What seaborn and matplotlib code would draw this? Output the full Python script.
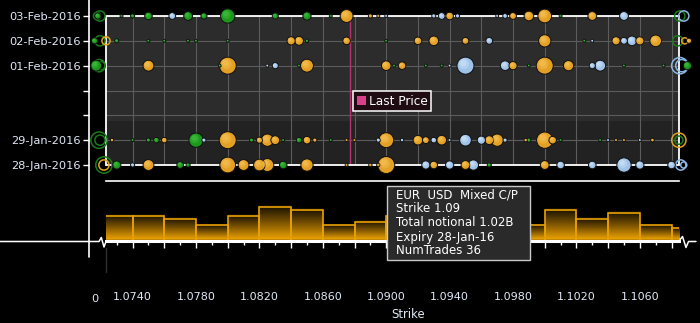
import numpy as np
import pandas as pd
import matplotlib
matplotlib.use("Agg")
import matplotlib.pyplot as plt
import seaborn as sns
from matplotlib.patches import Rectangle, Patch
from matplotlib.lines import Line2D
from matplotlib.path import Path
from matplotlib.colors import LinearSegmentedColormap
from matplotlib.ticker import FixedLocator, FuncFormatter

# ------------------------------------------------------------------ data
day_labels = ["28-Jan-2016", "29-Jan-2016", "", "", "01-Feb-2016", "02-Feb-2016", "03-Feb-2016"]

# 28-Jan-2016 (day 0)
strike_d0 = [1.0730, 1.0740, 1.0750, 1.0770, 1.0775, 1.0800, 1.0810, 1.0820, 1.0825, 1.0835,
             1.0850, 1.0875, 1.0890, 1.0895, 1.0900, 1.0925, 1.0930, 1.0940, 1.0950, 1.0955,
             1.0965, 1.1000, 1.1010, 1.1030, 1.1050, 1.1060, 1.1080]
notional_d0 = [237, 59, 416, 161, 59, 878, 416, 481, 588, 202,
               533, 30, 40, 40, 1020, 237, 202, 237, 274, 370,
               59, 274, 202, 202, 725, 237, 202]
type_d0 = list("CPMCCMMMMCMMMMMPMPMPCMPPPPP")

# 29-Jan-2016 (day 1)
strike_d1 = [1.0727, 1.0740, 1.0750, 1.0755, 1.0760, 1.0780, 1.0785, 1.0800, 1.0815, 1.0820,
             1.0825, 1.0830, 1.0835, 1.0845, 1.0850, 1.0855, 1.0865, 1.0875, 1.0880, 1.0895,
             1.0900, 1.0910, 1.0920, 1.0925, 1.0930, 1.0935, 1.0940, 1.0950, 1.0960, 1.0965,
             1.0970, 1.0975, 1.0988, 1.0990, 1.1000, 1.1005, 1.1010, 1.1035, 1.1040, 1.1045,
             1.1050, 1.1060, 1.1068]
notional_d1 = [40, 30, 59, 108, 108, 725, 59, 1200, 59, 133,
               533, 274, 30, 108, 202, 59, 30, 30, 30, 59,
               789, 40, 327, 161, 108, 327, 30, 481, 237, 274,
               533, 59, 40, 59, 947, 202, 30, 30, 30, 30,
               30, 30, 45]
type_d1 = list("MCCCMCPMCMMMCCMMCMMPMPMMPMPPPMMPMCMMCCPMMPM")

# 01-Feb-2016 (day 4)
strike_d4 = [1.0717, 1.0750, 1.0795, 1.0800, 1.0825, 1.0830, 1.0845, 1.0850, 1.0900, 1.0905,
             1.0910, 1.0925, 1.0935, 1.0940, 1.0950, 1.0975, 1.0980, 1.0990, 1.1000, 1.1015,
             1.1030, 1.1035, 1.1050, 1.1075, 1.1090]
notional_d4 = [416, 416, 30, 1200, 30, 133, 30, 588, 327, 30,
               202, 30, 30, 30, 1200, 327, 237, 30, 1280, 370,
               133, 416, 30, 30, 237]
type_d4 = list("CMCMPPCMMCMCCPPPMCMMPPCCC")

# 02-Feb-2016 (day 5)
strike_d5 = [1.0716, 1.0730, 1.0750, 1.0760, 1.0775, 1.0780, 1.0800, 1.0840, 1.0845, 1.0850,
             1.0875, 1.0900, 1.0920, 1.0930, 1.0950, 1.0965, 1.1000, 1.1025, 1.1030, 1.1045,
             1.1050, 1.1055, 1.1060, 1.1070, 1.1091]
notional_d5 = [133, 59, 30, 30, 30, 30, 30, 237, 274, 40,
               202, 30, 202, 327, 161, 161, 533, 30, 30, 237,
               161, 327, 237, 481, 93]
type_d5 = list("CCCCCCCMMCMCMMMPMCPMPPMMM")

# 03-Feb-2016 (day 6)
strike_d6 = [1.0718, 1.0733, 1.0740, 1.0750, 1.0765, 1.0775, 1.0785, 1.0800, 1.0830, 1.0850,
             1.0865, 1.0875, 1.0890, 1.0895, 1.0900, 1.0930, 1.0935, 1.0940, 1.0945, 1.0970,
             1.0975, 1.0980, 1.0990, 1.1000, 1.1010, 1.1030, 1.1050]
notional_d6 = [133, 30, 59, 202, 161, 274, 133, 725, 133, 237,
               30, 588, 59, 30, 30, 59, 161, 202, 59, 30,
               78, 161, 327, 664, 30, 274, 274]
type_d6 = list("CCCCPCCCCCCMMMPPPMPPPMMMCMP")

# strikes outside the visible range, shown as rings at the edges
edge_strike = [1.07194, 1.07175, 1.07194, 1.07232, 1.07188, 1.07200, 1.07188, 1.07194, 1.07219, 1.07219,
               1.10852, 1.10877, 1.10839, 1.10883, 1.10852, 1.10865, 1.10846, 1.10846, 1.10858, 1.10877]
edge_day = [6, 6, 5, 5, 4, 4, 1, 1, 0, 0,
            6, 6, 5, 5, 4, 4, 1, 1, 0, 0]
edge_notional = [370, 180, 370, 237, 533, 237, 947, 370, 947, 370,
                 370, 370, 370, 133, 947, 533, 725, 237, 370, 133]
edge_type = list("CCCMCCCCCM" "CPCMPPMCPP")

last_price = 1.0877

hist_edges = [1.072, 1.074, 1.076, 1.078, 1.080, 1.082, 1.084, 1.086, 1.088, 1.090,
              1.092, 1.094, 1.096, 1.098, 1.100, 1.102, 1.104, 1.106, 1.108, 1.110]
hist_counts = [8, 8, 7, 5, 8, 11, 10, 5, 6, 8, 7, 9, 6, 5, 10, 7, 9, 5, 4]

tooltip_lines = ["EUR  USD  Mixed C/P", "Strike 1.09", "Total notional 1.02B",
                 "Expiry 28-Jan-16", "NumTrades 36"]

# ------------------------------------------------------------------ frames
type_names = {"C": "Call", "P": "Put", "M": "Mixed"}
rows = []
for d, s, n, t in [(0, strike_d0, notional_d0, type_d0), (1, strike_d1, notional_d1, type_d1),
                   (4, strike_d4, notional_d4, type_d4), (5, strike_d5, notional_d5, type_d5),
                   (6, strike_d6, notional_d6, type_d6)]:
    rows.append(pd.DataFrame({"strike": s, "day": d, "notional": n,
                              "type": [type_names[c] for c in t]}))
df = pd.concat(rows, ignore_index=True).sort_values("notional", ascending=False)
edf = pd.DataFrame({"strike": edge_strike, "day": edge_day, "notional": edge_notional,
                    "type": [type_names[c] for c in edge_type]})
hdf = pd.DataFrame({"strike": [(a + b) / 2 for a, b in zip(hist_edges[:-1], hist_edges[1:])],
                    "count": hist_counts})

palette = {"Call": "#1c961c", "Put": "#9ec2e8", "Mixed": "#e3a024"}
light_palette = {"Call": "#4fd04f", "Put": "#e2efff", "Mixed": "#ffd06a"}
ring_palette = {"Call": "#1a7a1a", "Put": "#8cb6e2", "Mixed": "#e0a020"}

# ------------------------------------------------------------------ figure
sns.set_style("dark")
plt.rcParams["font.family"] = ["DejaVu Sans"]
fig = plt.figure(figsize=(7.0, 3.23), dpi=100, facecolor="black")

W, H = 700.0, 323.0
ax = fig.add_axes([106 / W, 1 - 165 / H, 573 / W, 149 / H])
axh = fig.add_axes([106 / W, 1 - 241 / H, 573 / W, 60 / H])

XMIN, XMAX = 1.07232, 1.10847
NMAX = 1020.0
SMAX = (2 * 8.5 * 0.72) ** 2
text_col = "#dfe8f6"


def highlight_marker(cx, cy, r):
    circ = Path.circle(center=(cx, cy), radius=r)
    verts = np.vstack([circ.vertices, [[1.0, 1.0], [-1.0, -1.0]]])
    codes = np.concatenate([circ.codes, [Path.MOVETO, Path.MOVETO]])
    return Path(verts, codes)


# ---- top bubble panel
ax.set_facecolor("#2c2c2c")
ax.axhspan(0, 1.77, color="#222222", zorder=0.5, lw=0)
ax.axvline(last_price, color="#b3336e", lw=1.0, zorder=1.5)

sns.scatterplot(data=edf, x="strike", y="day", hue="type", size="notional",
                sizes=(0, SMAX), size_norm=(0, NMAX), palette=ring_palette,
                edgecolor="none", legend=False, ax=ax, zorder=3.5, clip_on=False)
ring = ax.collections[-1]
ring.set_edgecolors(ring.get_facecolors())
ring.set_facecolors("none")
ring.set_linewidths(1.1)

sns.scatterplot(data=df, x="strike", y="day", hue="type", size="notional",
                sizes=(0, SMAX), size_norm=(0, NMAX), palette=palette,
                edgecolor="#101010", linewidth=0.7, legend=False, ax=ax,
                zorder=4, clip_on=False)
# soft highlight for a glossy look
for (cx, cy, r, a) in [(-0.18, 0.2, 0.62, 0.30), (-0.25, 0.3, 0.38, 0.35)]:
    sns.scatterplot(data=df, x="strike", y="day", hue="type", size="notional",
                    sizes=(0, SMAX), size_norm=(0, NMAX), palette=light_palette,
                    marker=highlight_marker(cx, cy, r), edgecolor="none", linewidth=0,
                    alpha=a, legend=False, ax=ax, zorder=4.1, clip_on=False)

ax.set_xlim(XMIN, XMAX)
ax.set_ylim(0, 6)
ax.xaxis.set_major_locator(FixedLocator(np.round(np.arange(1.072, 1.110, 0.002), 3)))
ax.set_yticks(range(7))
ax.set_yticklabels(day_labels)
ax.grid(True, color="#5c5c5c", lw=0.8, zorder=1)
ax.set_axisbelow(True)
ax.tick_params(axis="x", length=0, labelbottom=False)
ax.tick_params(axis="y", length=4.3, width=1, color="white", direction="out",
               pad=1.5, labelsize=8.2, labelcolor=text_col, left=True)
for sp in ax.spines.values():
    sp.set_visible(False)
ax.spines["left"].set_position(("outward", 17 * 0.72))
ax.set_xlabel("")
ax.set_ylabel("")
ax.add_patch(Rectangle((0, 0), 1, 1, transform=ax.transAxes, fill=False,
                       edgecolor="white", lw=1.3, zorder=2.6, clip_on=False))

leg = ax.legend(handles=[Patch(facecolor="#d8408c", edgecolor="none", label="Last Price")],
                loc="upper left", bbox_to_anchor=(0.431, 0.497), borderaxespad=0,
                frameon=True, fancybox=False, framealpha=1, facecolor="#1e0c12",
                edgecolor="white", handlelength=0.75, handleheight=0.75,
                handletextpad=0.25, borderpad=0.3, fontsize=8.7, labelcolor="white")
leg.get_frame().set_linewidth(1.1)

# ---- histogram panel
axh.set_facecolor("black")
sns.histplot(data=hdf, x="strike", weights="count", bins=hist_edges, ax=axh,
             color="#e8a000", edgecolor="#e8a000", linewidth=1.2, alpha=1)
cmap = LinearSegmentedColormap.from_list("grad", ["#e8a000", "#7a5200", "#120d00"])
grad = np.linspace(0, 1, 64).reshape(-1, 1)
for p in list(axh.patches):
    x0, y0, w, h = p.get_x(), p.get_y(), p.get_width(), p.get_height()
    xa, xb = max(x0, XMIN), min(x0 + w, XMAX)
    if xb > xa:
        axh.imshow(grad, extent=[xa, xb, y0, y0 + h], origin="lower",
                   cmap=cmap, aspect="auto", zorder=1, interpolation="bilinear")
    p.set_facecolor("none")
    p.set_zorder(2)
axh.set_xlim(XMIN, XMAX)
axh.set_ylim(-0.5, 19.5)
axh.set_aspect("auto")
axh.grid(False)
axh.set_yticks([])
axh.set_ylabel("")
for k in ["left", "right"]:
    axh.spines[k].set_visible(False)
axh.spines["top"].set_color("white")
axh.spines["top"].set_linewidth(1.2)
axh.spines["bottom"].set_color("white")
axh.spines["bottom"].set_linewidth(2.2)
major = np.round(np.arange(1.072, 1.110, 0.002), 3)
minor = np.round(np.arange(1.073, 1.110, 0.002), 3)
axh.xaxis.set_major_locator(FixedLocator(major))
axh.xaxis.set_minor_locator(FixedLocator(minor))
axh.xaxis.set_major_formatter(FuncFormatter(
    lambda v, pos: f"{v:.4f}" if int(round((v - 1.074) / 0.002)) % 2 == 0 else ""))
axh.tick_params(axis="x", which="major", length=5, width=1, color="white",
                direction="out", pad=31.5, labelsize=8.0, labelcolor=text_col, bottom=True)
axh.tick_params(axis="x", which="minor", length=3, width=1, color="white",
                direction="out", bottom=True)
axh.set_xlabel("Strike", color=text_col, fontsize=8.4, va="center")
axh.xaxis.set_label_coords((408 - 106) / 573, -(315 - 241) / 60)

# ---- decorations in figure pixels
def fx(x):
    return x / W

def fy(y):
    return 1 - y / H

fig.add_artist(Line2D([fx(89), fx(89)], [fy(0), fy(257)], color="white", lw=1.2))
fig.add_artist(Line2D([fx(0), fx(99), fx(101.3), fx(104), fx(106)],
                      [fy(241.5), fy(241.5), fy(237.5), fy(247), fy(241.5)],
                      color="white", lw=1.1))
fig.add_artist(Line2D([fx(679), fx(682.5), fx(686), fx(688.5), fx(696)],
                      [fy(241), fy(236.5), fy(247.5), fy(241.5), fy(241.5)],
                      color="white", lw=1.1))
fig.add_artist(Line2D([fx(105.5), fx(105.5)], [fy(248), fy(272)], color="#303030", lw=1))
fig.text(fx(95), fy(298.5), "0", color=text_col, fontsize=8.2, ha="center", va="center")

fig.add_artist(Rectangle((fx(387), fy(260)), 143 / W, 74 / H, transform=fig.transFigure,
                         facecolor="#2a2a2a", edgecolor="#c8c8c8", lw=1.0, zorder=10))
for i, line in enumerate(tooltip_lines):
    fig.text(fx(396), fy(195 + 14 * i), line, color="white", fontsize=8.5,
             ha="left", va="center", zorder=11)

fig.savefig("out.png", dpi=100, facecolor="black")
